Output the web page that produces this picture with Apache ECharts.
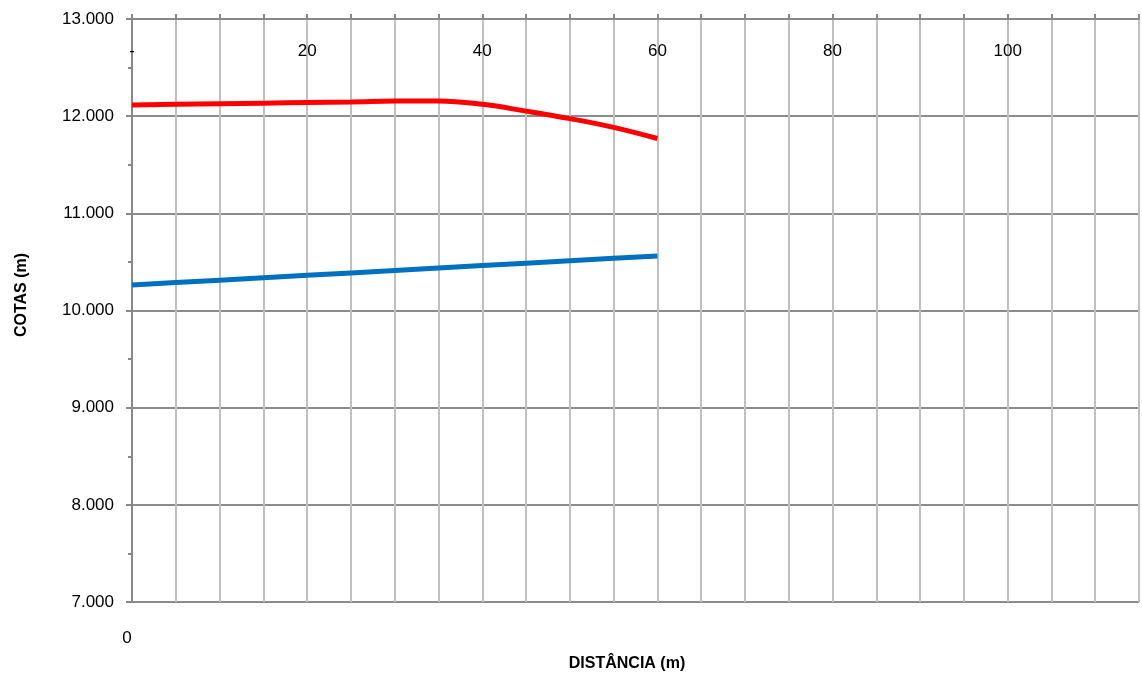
<!DOCTYPE html>
<html>
<head>
<meta charset="utf-8">
<script src="https://cdn.jsdelivr.net/npm/echarts@6/dist/echarts.min.js"></script>
<style>
html,body{margin:0;padding:0;background:#fff;}
#chart{width:1142px;height:676px;}
</style>
</head>
<body>
<div id="chart"></div>
<script>
// Distances (m)
const distances = [0, 5, 10, 15, 20, 25, 30, 35, 40, 45, 50, 55, 60];
// Terrain elevation (red)
const terreno = [12.115, 12.122, 12.128, 12.134, 12.140, 12.146, 12.155, 12.157, 12.122, 12.052, 11.975, 11.885, 11.770];
// Pipe elevation (blue)
const tubo = [10.262, 10.287, 10.312, 10.337, 10.362, 10.387, 10.412, 10.437, 10.462, 10.487, 10.512, 10.537, 10.562];
const yTicks = [7, 8, 9, 10, 11, 12, 13];
const xLabelTicks = [0, 20, 40, 60, 80, 100];
const yTitle = 'COTAS (m)';
const xTitle = 'DISTÂNCIA (m)';

const chart = echarts.init(document.getElementById('chart'), null, {renderer: 'canvas'});
const font = 'Liberation Sans, Arial, sans-serif';
const pair = (arr) => distances.map((d, i) => [d, arr[i]]);

chart.setOption({
  animation: false,
  grid: {left: 132, top: 19, right: 0, bottom: 74, containLabel: false},
  xAxis: [{
    type: 'value', position: 'top', min: 0, max: 115, interval: 5,
    axisLine: {show: true, onZero: false, lineStyle: {color: '#888888', width: 2}},
    axisTick: {show: true, length: 5, lineStyle: {color: '#888888', width: 2}},
    axisLabel: {
      inside: true, margin: 24, fontSize: 17, color: '#000', fontFamily: font,
      formatter: (v) => xLabelTicks.includes(v) ? (v === 0 ? '-' : String(v)) : ''
    },
    splitLine: {show: true, lineStyle: {color: '#c0c0c0', width: 2}}
  }, {
    type: 'value', position: 'bottom', min: 0, max: 115, interval: 5,
    axisLine: {show: false}, axisTick: {show: false}, splitLine: {show: false},
    axisLabel: {
      margin: 28, fontSize: 17, color: '#000', fontFamily: font, padding: [0, 10, 0, 0],
      formatter: (v) => v === 0 ? '0' : ''
    }
  }],
  yAxis: {
    type: 'value', min: yTicks[0], max: yTicks[yTicks.length - 1], interval: 1,
    axisLine: {show: true, onZero: false, lineStyle: {color: '#888888', width: 2}},
    axisTick: {show: true, length: 6, lineStyle: {color: '#888888', width: 2}},
    minorTick: {show: true, splitNumber: 2, length: 4, lineStyle: {color: '#888888', width: 2}},
    axisLabel: {margin: 18, fontSize: 17, color: '#000', fontFamily: font,
      formatter: (v) => v.toFixed(3)},
    splitLine: {show: true, lineStyle: {color: '#8c8c8c', width: 2}}
  },
  graphic: [
    {type: 'text', x: 22, y: 295, rotation: Math.PI / 2,
      style: {text: yTitle, font: 'bold 16px ' + font, fill: '#000', align: 'center', verticalAlign: 'middle'}},
    {type: 'text', x: 627, y: 664,
      style: {text: xTitle, font: 'bold 16px ' + font, fill: '#000', align: 'center', verticalAlign: 'middle'}}
  ],
  series: [{
    type: 'line', xAxisIndex: 0, data: pair(terreno), smooth: 0.4, showSymbol: false,
    lineStyle: {color: '#ff0000', width: 5}
  }, {
    type: 'line', xAxisIndex: 0, data: pair(tubo), smooth: false, showSymbol: false,
    lineStyle: {color: '#0070c0', width: 5}
  }]
});
</script>
</body>
</html>
